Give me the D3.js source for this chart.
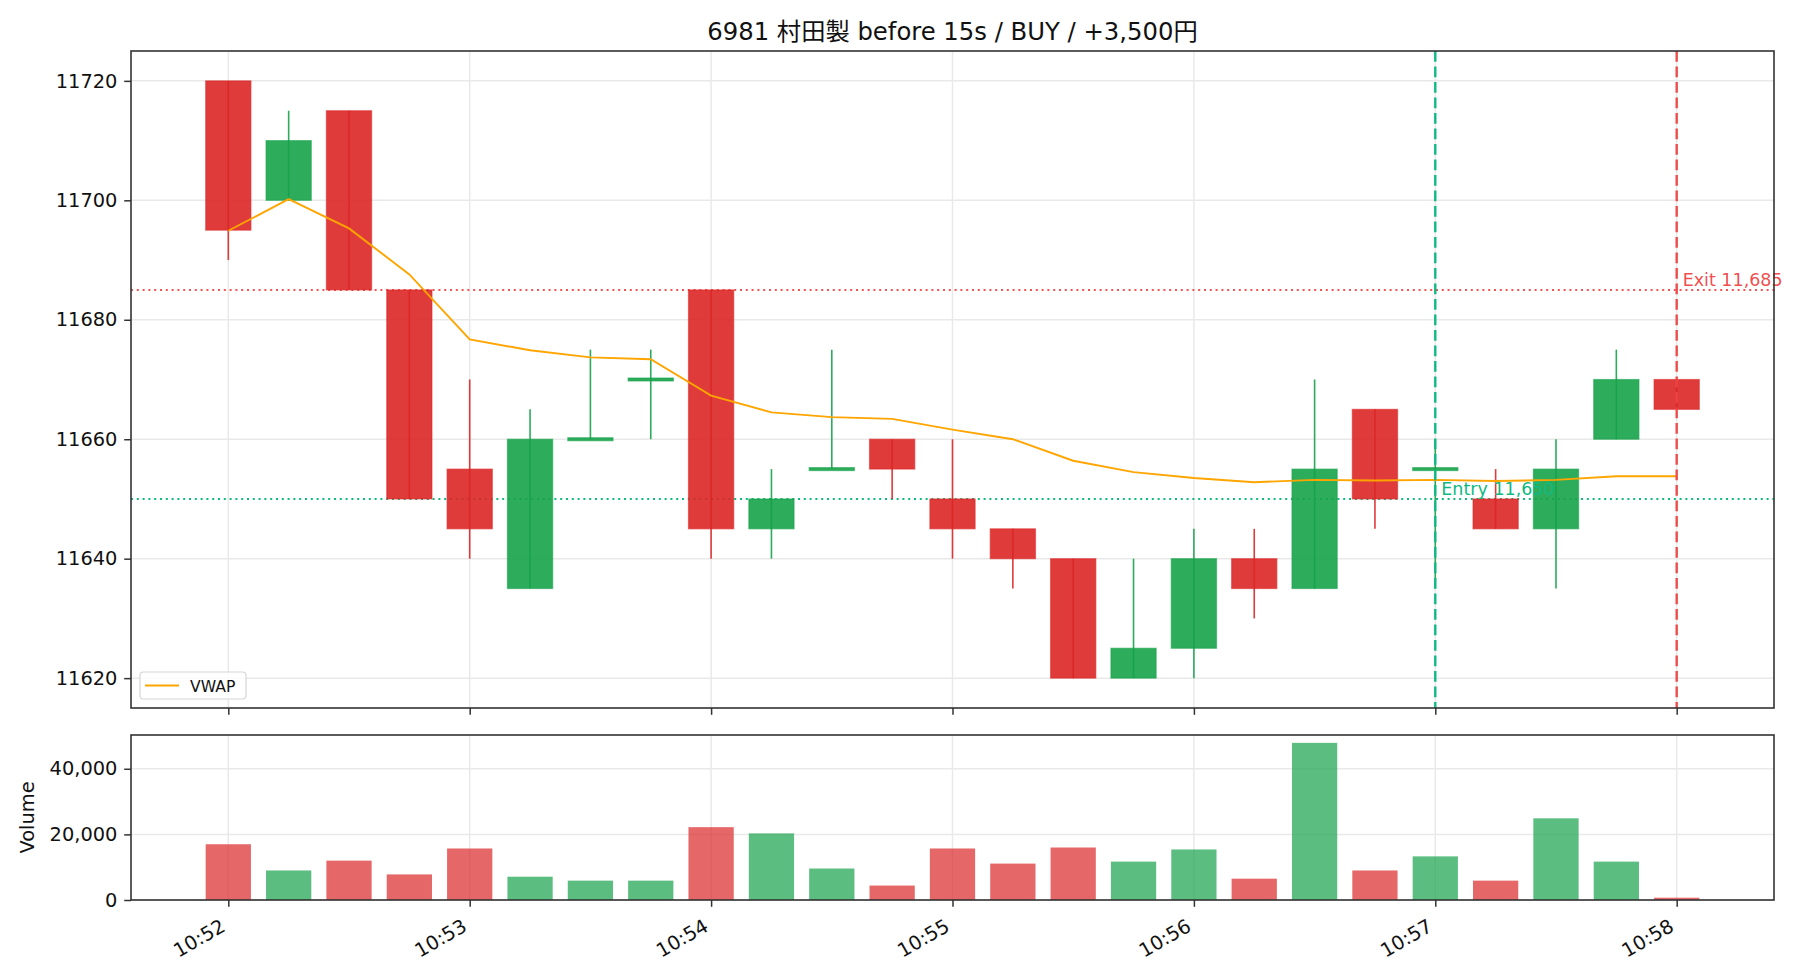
<!DOCTYPE html>
<html><head><meta charset="utf-8">
<script src="https://cdn.jsdelivr.net/npm/d3@7"></script>
<style>
body{margin:0;background:#fff;}
svg{display:block;font-family:"DejaVu Sans","Noto Sans CJK JP",sans-serif;}
svg text{font-family:"DejaVu Sans","Noto Sans CJK JP",sans-serif;}
</style></head><body>
<svg id="chart" width="1820" height="980"></svg>
<script>
// ---------------- data ----------------
const titleText = "6981 村田製 before 15s / BUY / +3,500円";
const times  = ["10:52:00","10:52:15","10:52:30","10:52:45","10:53:00","10:53:15","10:53:30","10:53:45",
                "10:54:00","10:54:15","10:54:30","10:54:45","10:55:00","10:55:15","10:55:30","10:55:45",
                "10:56:00","10:56:15","10:56:30","10:56:45","10:57:00","10:57:15","10:57:30","10:57:45","10:58:00"];
const opens  = [11720,11700,11715,11685,11655,11635,11660,11670,11685,11645,11655,11660,11650,11645,11640,11620,11625,11640,11635,11665,11655,11650,11645,11660,11670];
const highs  = [11720,11715,11715,11685,11670,11665,11675,11675,11685,11655,11675,11660,11660,11645,11640,11640,11645,11645,11670,11665,11660,11655,11660,11675,11670];
const lows   = [11690,11700,11685,11650,11640,11635,11660,11660,11640,11640,11655,11650,11640,11635,11620,11620,11620,11630,11635,11645,11635,11645,11635,11660,11665];
const closes = [11695,11710,11685,11650,11645,11660,11660,11670,11645,11650,11655,11655,11645,11640,11620,11625,11640,11635,11655,11650,11655,11645,11655,11670,11665];
const volumes= [17000,9000,12000,7800,15700,7100,5900,5900,22200,20300,9600,4400,15700,11100,16000,11700,15400,6500,47900,9000,13300,5900,24900,11700,700];
const vwap   = [11694.9,11700.2,11695.3,11687.6,11676.7,11674.9,11673.7,11673.4,11667.3,11664.5,11663.7,11663.4,11661.6,11660.0,11656.4,11654.5,11653.5,11652.8,11653.2,11653.1,11653.2,11653.0,11653.2,11653.8,11653.8];
const priceTicks  = [11620,11640,11660,11680,11700,11720];
const volumeTicks = [0,20000,40000];
const entryTime = "10:57:00", entryPrice = 11650, entryLabel = "Entry 11,650";
const exitTime  = "10:58:00", exitPrice  = 11685, exitLabel  = "Exit 11,685";
const legendLabel = "VWAP";
const volumeLabel = "Volume";

// ---------------- layout ----------------
const L = 131, R = 1774, pTop = 51, pBot = 708, vTop = 735, vBot = 900;
const upC = "#16a34a", dnC = "#dc2626", entC = "#10b981", exC = "#ef4444";
const FONT = '"DejaVu Sans","Noto Sans CJK JP",sans-serif';
const tickFont = 19.4, tickLen = 6.8, tickPad = 6.8;

const svg = d3.select("#chart");
const parse = d3.timeParse("%H:%M:%S");
const dates = times.map(parse);
const stepMs = 15000, bwMs = stepMs * 0.75;
const dMin = +d3.min(dates) - bwMs/2, dMax = +d3.max(dates) + bwMs/2;
const dPad = (dMax - dMin) * 0.05;
const x = d3.scaleTime().domain([new Date(dMin - dPad), new Date(dMax + dPad)]).range([L, R]);
const pMin = d3.min(lows), pMax = d3.max(highs), pPad = (pMax - pMin) * 0.05;
const y = d3.scaleLinear().domain([pMin - pPad, pMax + pPad]).range([pBot, pTop]);
const yv = d3.scaleLinear().domain([0, d3.max(volumes) * 1.05]).range([vBot, vTop]);
const bw = x(new Date(+dates[0] + bwMs)) - x(dates[0]);
const minuteTicks = x.ticks(d3.timeMinute.every(1)).filter(t => +t >= +x.domain()[0] && +t <= +x.domain()[1]);

const data = dates.map((d,i)=>({d, o:opens[i], h:highs[i], l:lows[i], c:closes[i], v:volumes[i], w:vwap[i], up: closes[i] >= opens[i]}));

// ---------------- grids ----------------
const gridC = "#e9e9e9";
function grid(top, bot, yTicks, ys){
  const g = svg.append("g");
  g.selectAll(".gx").data(minuteTicks).join("line")
    .attr("x1", d=>x(d)).attr("x2", d=>x(d)).attr("y1", top).attr("y2", bot)
    .attr("stroke", gridC).attr("stroke-width", 1.5);
  g.selectAll(".gy").data(yTicks).join("line")
    .attr("x1", L).attr("x2", R).attr("y1", d=>ys(d)).attr("y2", d=>ys(d))
    .attr("stroke", gridC).attr("stroke-width", 1.5);
}
grid(pTop, pBot, priceTicks, y);
grid(vTop, vBot, volumeTicks, yv);

// ---------------- price panel ----------------
svg.append("clipPath").attr("id","clipP").append("rect")
  .attr("x", L).attr("y", pTop).attr("width", R-L).attr("height", pBot-pTop);
const pg = svg.append("g").attr("clip-path","url(#clipP)");

pg.append("line").attr("x1",L).attr("x2",R).attr("y1",y(entryPrice)).attr("y2",y(entryPrice))
  .attr("stroke",entC).attr("stroke-width",2).attr("stroke-dasharray","2,3.8");
pg.append("line").attr("x1",L).attr("x2",R).attr("y1",y(exitPrice)).attr("y2",y(exitPrice))
  .attr("stroke",exC).attr("stroke-width",2).attr("stroke-dasharray","2,3.8").attr("opacity",0.9);

const cg = pg.append("g");
cg.selectAll("rect.body").data(data).join("rect").attr("class","body")
  .attr("x", d=>x(d.d)-bw/2).attr("width", bw)
  .attr("y", d=>y(Math.max(d.o,d.c)) - (d.o===d.c?1.5:0))
  .attr("height", d=>Math.max(3, Math.abs(y(d.o)-y(d.c))))
  .attr("fill", d=>d.up?upC:dnC).attr("fill-opacity",0.9)
  .attr("stroke", d=>d.up?upC:dnC).attr("stroke-opacity",0.55).attr("stroke-width",1.2);
cg.selectAll("line.wick").data(data).join("line").attr("class","wick")
  .attr("x1", d=>x(d.d)).attr("x2", d=>x(d.d)).attr("y1", d=>y(d.h)).attr("y2", d=>y(d.l))
  .attr("stroke", d=>d.up?upC:dnC).attr("stroke-width",1.6).attr("opacity",0.9);

pg.append("path").datum(data)
  .attr("d", d3.line().x(d=>x(d.d)).y(d=>y(d.w)))
  .attr("fill","none").attr("stroke","orange").attr("stroke-width",1.9);

pg.append("line").attr("x1",x(parse(entryTime))).attr("x2",x(parse(entryTime))).attr("y1",pTop).attr("y2",pBot)
  .attr("stroke",entC).attr("stroke-width",2.4).attr("stroke-dasharray","10.8,4.7");
pg.append("line").attr("x1",x(parse(exitTime))).attr("x2",x(parse(exitTime))).attr("y1",pTop).attr("y2",pBot)
  .attr("stroke",exC).attr("stroke-width",2.4).attr("stroke-dasharray","10.8,4.7").attr("opacity",0.95);

svg.append("text").attr("x", x(parse(entryTime))+6).attr("y", y(entryPrice)-4)
  .attr("fill",entC).attr("font-size",17.5).text(entryLabel);
svg.append("text").attr("x", x(parse(exitTime))+6).attr("y", y(exitPrice)-4)
  .attr("fill",exC).attr("fill-opacity",0.95).attr("font-size",17.5).text(exitLabel);

// ---------------- volume panel ----------------
svg.append("g").selectAll("rect").data(data).join("rect")
  .attr("x", d=>x(d.d)-bw/2).attr("width", bw)
  .attr("y", d=>yv(d.v)).attr("height", d=>yv(0)-yv(d.v))
  .attr("fill", d=>d.up?upC:dnC).attr("fill-opacity",0.7);

// ---------------- axes ----------------
function styleAxis(g){
  g.attr("font-family", FONT).attr("font-size", tickFont);
  g.select(".domain").remove();
  g.selectAll(".tick line").attr("stroke","#333").attr("stroke-width",1.5);
  g.selectAll(".tick text").attr("fill","#111");
}
svg.append("g").attr("transform",`translate(${L},0)`)
  .call(d3.axisLeft(y).tickValues(priceTicks).tickSize(tickLen).tickPadding(tickPad).tickFormat(d3.format("d")))
  .call(styleAxis);
svg.append("g").attr("transform",`translate(0,${pBot})`)
  .call(d3.axisBottom(x).tickValues(minuteTicks).tickSize(tickLen).tickFormat(""))
  .call(styleAxis);
svg.append("g").attr("transform",`translate(${L},0)`)
  .call(d3.axisLeft(yv).tickValues(volumeTicks).tickSize(tickLen).tickPadding(tickPad).tickFormat(d3.format(",")))
  .call(styleAxis);
const xb = svg.append("g").attr("transform",`translate(0,${vBot})`)
  .call(d3.axisBottom(x).tickValues(minuteTicks).tickSize(tickLen).tickFormat(d3.timeFormat("%H:%M")))
  .call(styleAxis);
xb.selectAll(".tick text")
  .attr("text-anchor","end").attr("dy",null).attr("y",null)
  .attr("transform","translate(-2,30) rotate(-30)");

[[pTop,pBot],[vTop,vBot]].forEach(([t,b])=>{
  svg.append("rect").attr("x",L).attr("y",t).attr("width",R-L).attr("height",b-t)
    .attr("fill","none").attr("stroke","#333").attr("stroke-width",1.6);
});

svg.append("text").attr("x",(L+R)/2).attr("y",40).attr("text-anchor","middle")
  .attr("font-size",24.3).attr("fill","#111").text(titleText);

svg.append("text").attr("transform",`translate(34,${(vTop+vBot)/2}) rotate(-90)`)
  .attr("text-anchor","middle").attr("font-size",19.4).attr("fill","#111").text(volumeLabel);

const lg = svg.append("g");
lg.append("rect").attr("x",140).attr("y",672).attr("width",106).attr("height",27).attr("rx",3.5)
  .attr("fill","#fff").attr("fill-opacity",0.8).attr("stroke","#d6d6d6").attr("stroke-width",1.2);
lg.append("line").attr("x1",145).attr("x2",179).attr("y1",685.5).attr("y2",685.5)
  .attr("stroke","orange").attr("stroke-width",1.9);
lg.append("text").attr("x",190).attr("y",691.5).attr("font-size",15.6).attr("fill","#111").text(legendLabel);
</script>
</body></html>
